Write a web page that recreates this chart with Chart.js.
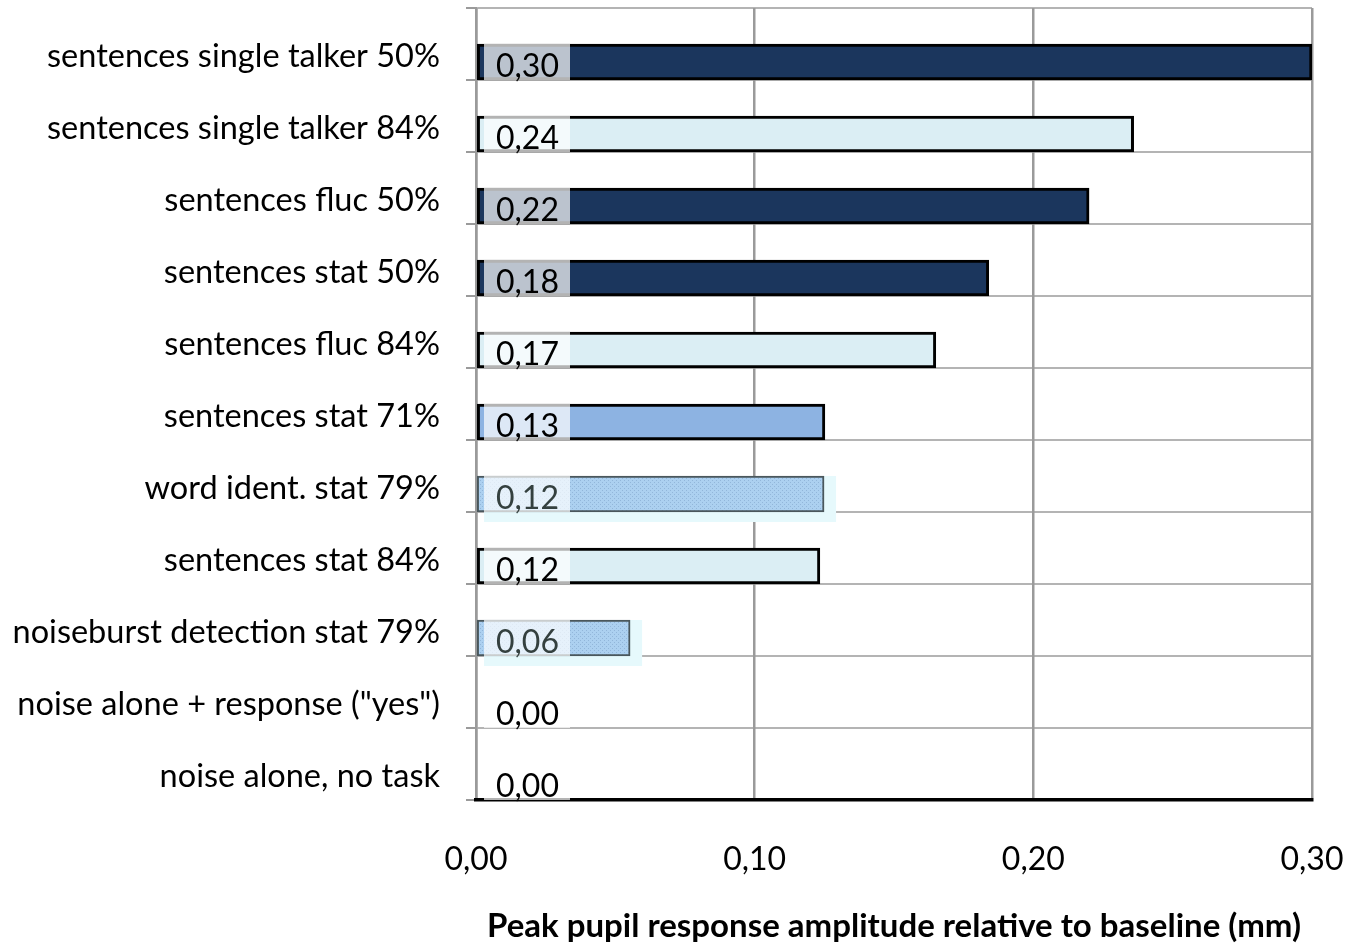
<!DOCTYPE html>
<html>
<head>
<meta charset="utf-8">
<script src="https://cdn.jsdelivr.net/npm/chart.js@4/dist/chart.umd.min.js"></script>
<style>
    html, body { margin: 0; padding: 0; background: #fff; }
    #wrap { width: 1346px; height: 946px; }
</style>
</head>
<body>
<div id="wrap"><canvas id="chartPupil" width="1346" height="946"></canvas></div>
<script>
const condicoes = [
    "sentences single talker 50%",
    "sentences single talker 84%",
    "sentences fluc 50%",
    "sentences stat 50%",
    "sentences fluc 84%",
    "sentences stat 71%",
    "word ident. stat 79%",
    "sentences stat 84%",
    "noiseburst detection stat 79%",
    "noise alone + response (\"yes\")",
    "noise alone, no task"
];
const amplitudes = [0.300, 0.236, 0.220, 0.184, 0.165, 0.1252, 0.1249, 0.1234, 0.0553, 0, 0];
const estilos = ["escuro", "claro", "escuro", "escuro", "claro", "medio", "pontos", "claro", "pontos", "vazio", "vazio"];
const xTicks = [0, 0.1, 0.2, 0.3];

const FONTE = "Lato, 'Open Sans', sans-serif";

function fmt(v) {
    return v.toFixed(2).replace(".", ",");
}

// textura pontilhada para as barras de identificacao/deteccao
function padraoPontos() {
    const c = document.createElement("canvas");
    c.width = 4; c.height = 4;
    const g = c.getContext("2d");
    g.fillStyle = "#acd0f0";
    g.fillRect(0, 0, 4, 4);
    g.fillStyle = "#92b6da";
    g.fillRect(0, 0, 1, 1);
    g.fillRect(2, 2, 1, 1);
    return g.createPattern(c, "repeat");
}

const pontos = padraoPontos();
const cores = { escuro: "#1b365d", claro: "#dbeef4", medio: "#8db3e2", pontos: pontos, vazio: "rgba(0,0,0,0)" };
const bordas = { escuro: "#000", claro: "#000", medio: "#000", pontos: "#4a575c", vazio: "rgba(0,0,0,0)" };
const larguras = { escuro: 3, claro: 3, medio: 3, pontos: 2, vazio: 0 };

// halo claro em volta das barras pontilhadas
const haloPlugin = {
    id: "halo",
    beforeDatasetsDraw(chart) {
        const meta = chart.getDatasetMeta(1);
        const ctx = chart.ctx;
        const x0 = chart.scales.x.getPixelForValue(0);
        ctx.save();
        ctx.fillStyle = "#e6f9fc";
        meta.data.forEach((bar, i) => {
            if (estilos[i] !== "pontos") return;
            const top = bar.y - bar.height / 2;
            ctx.fillRect(x0 + 8, top, bar.x - x0 + 4, bar.height + 10);
        });
        ctx.restore();
    }
};

// caixinha com o valor no inicio de cada barra
const rotuloPlugin = {
    id: "rotulos",
    afterDatasetsDraw(chart) {
        const meta = chart.getDatasetMeta(1);
        const ctx = chart.ctx;
        const x0 = chart.scales.x.getPixelForValue(0);
        ctx.save();
        meta.data.forEach((bar, i) => {
            const top = bar.y - bar.height / 2;
            ctx.fillStyle = "rgba(255,255,255,0.7)";
            ctx.fillRect(x0 + 8, top, 86, bar.height);
            ctx.fillStyle = estilos[i] === "pontos" ? "#34403f" : "#000";
            ctx.font = "32px " + FONTE;
            ctx.textBaseline = "middle";
            ctx.textAlign = "left";
            ctx.fillText(fmt(amplitudes[i]), x0 + 20, bar.y + 5);
        });
        ctx.restore();
    }
};

function desenharGrafico() {
    const ctx = document.getElementById("chartPupil").getContext("2d");
    new Chart(ctx, {
        type: "bar",
        data: {
            labels: condicoes,
            datasets: [
                { label: "", data: [] }, // ocupa a metade de cima de cada faixa
                {
                    label: "Amplitude",
                    data: amplitudes,
                    backgroundColor: estilos.map(e => cores[e]),
                    borderColor: estilos.map(e => bordas[e]),
                    borderWidth: estilos.map(e => larguras[e]),
                    borderSkipped: false
                }
            ]
        },
        options: {
            indexAxis: "y",
            responsive: false,
            animation: false,
            categoryPercentage: 1.0,
            barPercentage: 1.0,
            layout: { padding: { top: 8, right: 34, left: 0, bottom: 0 } },
            plugins: { legend: { display: false }, tooltip: { enabled: false } },
            scales: {
                y: {
                    afterFit: s => { s.width = 476; s.paddingTop = 0; s.paddingBottom = 0; },
                    grid: {
                        offset: true,
                        color: "#b4b4b4",
                        lineWidth: 2,
                        tickLength: 10,
                        tickColor: "#9a9a9a"
                    },
                    border: { color: "#9a9a9a", width: 2.5 },
                    ticks: {
                        color: "#000",
                        font: { family: FONTE, size: 32.5 },
                        padding: 26,
                        labelOffset: 13
                    }
                },
                x: {
                    min: 0,
                    max: 0.3,
                    afterFit: s => { s.height = 146; s.paddingLeft = 0; s.paddingRight = 0; },
                    afterBuildTicks: s => { s.ticks = xTicks.map(v => ({ value: v })); },
                    grid: { color: "#9a9a9a", lineWidth: 2.5, drawTicks: false },
                    border: { color: "#000", width: 3.5 },
                    ticks: {
                        color: "#000",
                        font: { family: FONTE, size: 32 },
                        padding: 40,
                        callback: v => fmt(v)
                    },
                    title: {
                        display: true,
                        text: "Peak pupil response amplitude relative to baseline (mm)",
                        color: "#000",
                        font: { family: FONTE, size: 33, weight: "bold" },
                        padding: { top: 0, bottom: 0 }
                    }
                }
            }
        },
        plugins: [haloPlugin, rotuloPlugin]
    });
}

desenharGrafico();
</script>
</body>
</html>
